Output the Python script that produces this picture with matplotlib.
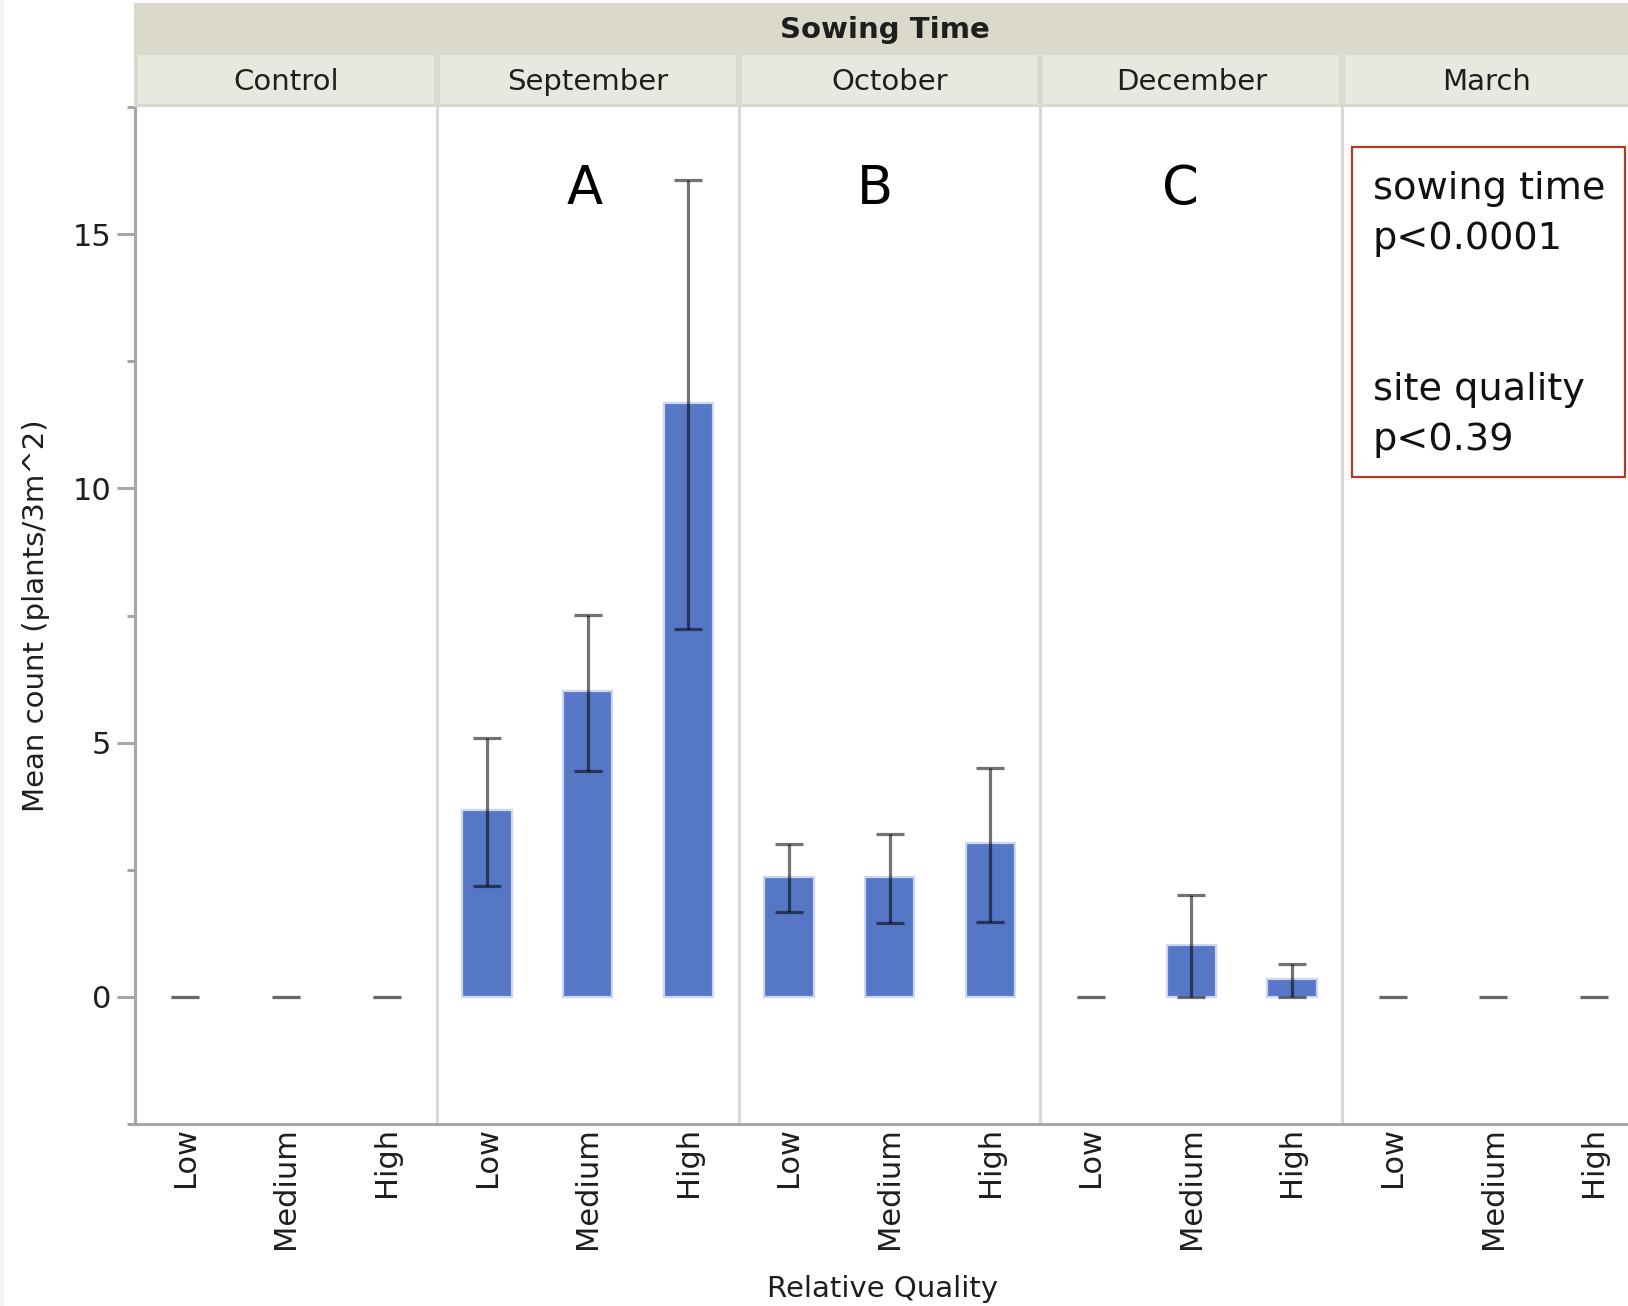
import matplotlib
matplotlib.use("Agg")
import matplotlib.pyplot as plt
from matplotlib.patches import Rectangle
from matplotlib.ticker import MultipleLocator
import numpy as np

# ---- data ----
sowing_times = ["Control", "September", "October", "December", "March"]
qualities = ["Low", "Medium", "High"]
mean_control = [0, 0, 0]
mean_september = [3.67, 6.02, 11.67]
mean_october = [2.35, 2.35, 3.02]
mean_december = [0, 1.02, 0.35]
mean_march = [0, 0, 0]
upper_control = [0, 0, 0]
upper_september = [5.10, 7.51, 16.06]
upper_october = [3.00, 3.20, 4.51]
upper_december = [0, 2.00, 0.65]
upper_march = [0, 0, 0]
lower_control = [0, 0, 0]
lower_september = [2.18, 4.45, 7.24]
lower_october = [1.67, 1.45, 1.47]
lower_december = [0, 0, 0]
lower_march = [0, 0, 0]
group_letters = ["A", "B", "C"]
letter_x = [4.47, 7.35, 10.39]
letter_y = [15.88, 15.88, 15.88]
y_label = "Mean count (plants/3m^2)"
x_label = "Relative Quality"
header_title = "Sowing Time"
stats_lines = ["sowing time", "p<0.0001", "site quality", "p<0.39"]

means = [mean_control, mean_september, mean_october, mean_december, mean_march]
uppers = [upper_control, upper_september, upper_october, upper_december, upper_march]
lowers = [lower_control, lower_september, lower_october, lower_december, lower_march]

W, H = 1628, 1306
fig = plt.figure(figsize=(W / 100, H / 100), dpi=100)
fig.patch.set_facecolor("white")
fig.add_artist(Rectangle((0, 0), 4 / W, 1, transform=fig.transFigure,
                         facecolor="#F3F6EA", edgecolor="none"))

ax_l, ax_r, ax_t, ax_b = 135, 1628, 107, 1124
ax = fig.add_axes([ax_l / W, (H - ax_b) / H, (ax_r - ax_l) / W, (ax_b - ax_t) / H])
XMAX = 14.84
ax.set_xlim(0, XMAX)
ax.set_ylim(-2.5, 17.5)

x_pos, vals, lo, hi, labels = [], [], [], [], []
for p, st in enumerate(sowing_times):
    for q, ql in enumerate(qualities):
        x_pos.append(p * 3 + q + 0.5)
        vals.append(means[p][q])
        lo.append(lowers[p][q])
        hi.append(uppers[p][q])
        labels.append(ql)
x_pos = np.array(x_pos); vals = np.array(vals)
lo = np.array(lo); hi = np.array(hi)

# panel separators
for b in [3, 6, 9, 12]:
    ax.axvline(b, color="#D9D9D9", lw=2.2, zorder=1)

nz = vals > 0
ax.bar(x_pos[nz], vals[nz], width=0.49, color="#5577C6",
       edgecolor="#CDD6F0", linewidth=1.6, zorder=2)
ax.errorbar(x_pos[nz], vals[nz], yerr=[vals[nz] - lo[nz], hi[nz] - vals[nz]], fmt="none",
            ecolor="black", alpha=0.55, elinewidth=2.3, capsize=10,
            capthick=2.3, zorder=3)
z = ~nz
ax.errorbar(x_pos[z], vals[z], yerr=[vals[z] - lo[z], hi[z] - vals[z]], fmt="none",
            ecolor="black", alpha=0.36, elinewidth=2.3, capsize=10,
            capthick=2.3, zorder=3)

for t, lx, ly in zip(group_letters, letter_x, letter_y):
    ax.text(lx, ly, t, fontsize=38, ha="center", va="center", color="black")

# stats box
box_x0, box_x1 = (1352 - ax_l) / (ax_r - ax_l), (1625 - ax_l) / (ax_r - ax_l)
box_y1, box_y0 = (ax_b - 147) / (ax_b - ax_t), (ax_b - 477) / (ax_b - ax_t)
ax.add_patch(Rectangle((box_x0, box_y0), box_x1 - box_x0, box_y1 - box_y0,
                       transform=ax.transAxes, facecolor="white",
                       edgecolor="#B63A22", linewidth=1.6, zorder=5, clip_on=False))
baselines = [199, 249, 400, 450]
tx = (1373 - ax_l) / (ax_r - ax_l)
for s, bl in zip(stats_lines, baselines):
    ax.text(tx, (ax_b - bl) / (ax_b - ax_t), s, transform=ax.transAxes,
            fontsize=27.5, ha="left", va="baseline", color="#111111", zorder=6)

# axes styling
for s in ["top", "right"]:
    ax.spines[s].set_visible(False)
for s in ["left", "bottom"]:
    ax.spines[s].set_color("#A6A6A6")
    ax.spines[s].set_linewidth(2.2)
ax.set_yticks([0, 5, 10, 15])
ax.yaxis.set_minor_locator(MultipleLocator(2.5))
ax.tick_params(axis="y", which="major", length=13, width=2.2, color="#A6A6A6",
               labelsize=22, labelcolor="#1E1E1E", pad=4)
ax.tick_params(axis="y", which="minor", length=6, width=2.2, color="#A6A6A6")
ax.set_xticks(x_pos)
ax.set_xticklabels(labels, rotation=90, va="top", ha="center")
ax.tick_params(axis="x", length=0, labelsize=22, labelcolor="#1E1E1E", pad=2)
ax.set_ylabel(y_label, fontsize=21, color="#1E1E1E")
ax.yaxis.set_label_coords((50 - ax_l) / (ax_r - ax_l), 0.5)
ax.set_xlabel(x_label, fontsize=21, color="#1E1E1E")
ax.xaxis.set_label_coords((883 - ax_l) / (ax_r - ax_l), (ax_b - 1289) / (ax_b - ax_t))
ax.xaxis.label.set_va("center")

# header strips
hx = fig.add_axes([134 / W, (H - 107) / H, (W - 134) / W, 104 / H])
hx.set_xlim(-1 / 100.6, XMAX)
hx.set_ylim(104, 0)
hx.axis("off")
hx.add_patch(Rectangle((-1, 0), XMAX + 2, 104, facecolor="#DBD9CB", edgecolor="none"))
for p, st in enumerate(sowing_times):
    x0 = p * 3 + 0.03
    x1 = min(p * 3 + 3 - 0.03, XMAX + 0.5)
    hx.add_patch(Rectangle((x0, 52), x1 - x0, 49, facecolor="#E8E8E0", edgecolor="none"))
    cx = p * 3 + 1.5
    if p == len(sowing_times) - 1:
        cx = p * 3 + 1.43
    hx.text(cx, 79, st, fontsize=21, ha="center", va="center", color="#1E1E1E")
for b in [3, 6, 9, 12]:
    hx.plot([b, b], [50, 104], color="#D9D9D9", lw=2.2)
hx.text((XMAX) / 2 + 0.03, 27, header_title, fontsize=21, fontweight="bold",
        ha="center", va="center", color="#1E1E1E")

fig.savefig("out.png", dpi=100)
